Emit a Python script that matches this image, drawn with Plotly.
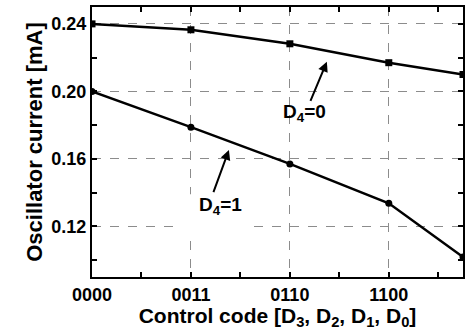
import plotly.graph_objects as go

# Control codes on the x axis (evenly spaced) and measured oscillator current
code_labels = ["0000", "0011", "0110", "1100"]
code_pos = [0, 1, 2, 3, 3.75]
current_d4_0 = [0.2400, 0.2365, 0.2282, 0.2170, 0.2100]
current_d4_1 = [0.2000, 0.1788, 0.1570, 0.1337, 0.1018]
y_ticks = [0.12, 0.16, 0.20, 0.24]

FONT = "Liberation Sans, Arial, sans-serif"

fig = go.Figure()
fig.add_trace(go.Scatter(
    x=code_pos, y=current_d4_0, mode="lines+markers",
    line=dict(color="black", width=2.5),
    marker=dict(symbol="square", size=7, color="black"),
    showlegend=False,
))
fig.add_trace(go.Scatter(
    x=code_pos, y=current_d4_1, mode="lines+markers",
    line=dict(color="black", width=2.5),
    marker=dict(symbol="circle", size=7, color="black"),
    showlegend=False,
))

# white patch that clears the grid behind the D4=1 label
fig.add_shape(type="rect", xref="x", yref="y", x0=0.86, x1=1.6, y0=0.1165, y1=0.139,
              fillcolor="white", line=dict(width=0), layer="above")

# arrows pointing at each curve
fig.add_annotation(x=2.374, y=0.2176, ax=2.202, ay=0.1935, axref="x", ayref="y",
                   xref="x", yref="y", text="", showarrow=True,
                   arrowhead=2, arrowsize=1, arrowwidth=2, arrowcolor="black")
fig.add_annotation(x=1.384, y=0.1653, ax=1.222, ay=0.1394, axref="x", ayref="y",
                   xref="x", yref="y", text="", showarrow=True,
                   arrowhead=2, arrowsize=1, arrowwidth=2, arrowcolor="black")
fig.add_annotation(x=2.15, y=0.187, xref="x", yref="y", text="<b>D<sub>4</sub>=0</b>",
                   showarrow=False, font=dict(family=FONT, size=19, color="black"))
fig.add_annotation(x=1.303, y=0.132, xref="x", yref="y", text="<b>D<sub>4</sub>=1</b>",
                   showarrow=False, font=dict(family=FONT, size=19, color="black"))

axis_common = dict(
    showline=True, linecolor="black", linewidth=2, mirror="allticks",
    ticks="inside", ticklen=5, tickwidth=1.5, tickcolor="black",
    showgrid=True, gridcolor="#8c8c8c", gridwidth=1, griddash="dash",
    zeroline=False,
    tickfont=dict(family=FONT, size=18, color="black", weight="bold"),
)

fig.update_xaxes(
    **axis_common,
    range=[0, 3.75], tickmode="array", tickvals=code_pos[:4], ticktext=code_labels,
    minor=dict(tickmode="array", tickvals=[0.5, 1.5, 2.5, 3.5], ticks="inside",
               ticklen=5, tickwidth=1.5, tickcolor="black", showgrid=False),
    title=dict(text="<b>Control code [D<sub>3</sub>, D<sub>2</sub>, D<sub>1</sub>, D<sub>0</sub>]</b>",
               font=dict(family=FONT, size=21, color="black"), standoff=0),
)
fig.update_yaxes(
    **axis_common,
    range=[0.09, 0.25], tickmode="array", tickvals=y_ticks,
    ticktext=[f"{v:.2f}" for v in y_ticks],
    minor=dict(tickmode="array", tickvals=[0.10, 0.14, 0.18, 0.22], ticks="inside",
               ticklen=5, tickwidth=1.5, tickcolor="black", showgrid=False),
    title=dict(text="<b>Oscillator current [mA]</b>",
               font=dict(family=FONT, size=22, color="black"), standoff=3),
)

fig.update_layout(
    width=471, height=330,
    margin=dict(l=92, r=8, t=5, b=53),
    plot_bgcolor="white", paper_bgcolor="white",
)

fig.write_html("out.html")
